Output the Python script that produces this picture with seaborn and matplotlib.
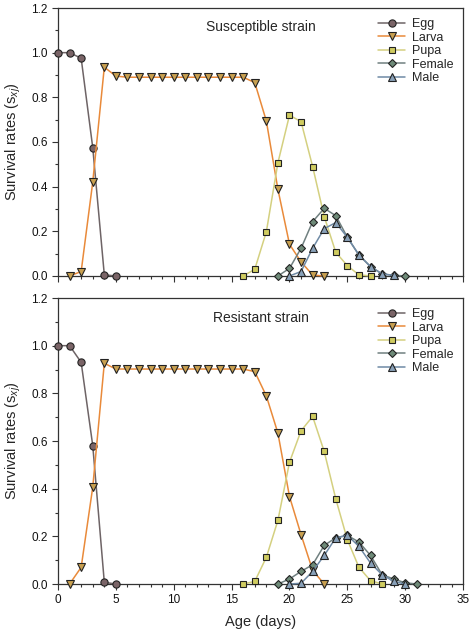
import numpy as np
import pandas as pd
import matplotlib
matplotlib.use("Agg")
import matplotlib.pyplot as plt
import seaborn as sns
from matplotlib.ticker import MultipleLocator

sns.set_style("ticks")
plt.rcParams.update({
    "font.family": ["Liberation Sans", "DejaVu Sans"],
    "mathtext.fontset": "custom",
    "mathtext.rm": "Liberation Sans",
    "mathtext.it": "Liberation Sans:italic",
    "axes.edgecolor": "#333333",
    "axes.linewidth": 0.9,
})

# --- susceptible strain ---
sus_egg_age = [0, 1, 2, 3, 4, 5]
sus_egg = [1.0, 1.0, 0.975, 0.575, 0.005, 0.0]
sus_larva_age = list(range(1, 24))
sus_larva = [0.0, 0.02, 0.42, 0.935, 0.895, 0.89, 0.89, 0.89, 0.89, 0.89, 0.89,
             0.89, 0.89, 0.89, 0.89, 0.89, 0.866, 0.694, 0.388, 0.142, 0.063,
             0.004, 0.0]
sus_pupa_age = list(range(16, 28))
sus_pupa = [0.0, 0.03, 0.198, 0.507, 0.72, 0.691, 0.49, 0.266, 0.106, 0.046,
            0.005, 0.0]
sus_female_age = list(range(19, 31))
sus_female = [0.0, 0.034, 0.124, 0.243, 0.303, 0.27, 0.173, 0.094, 0.042,
              0.009, 0.003, 0.0]
sus_male_age = list(range(20, 30))
sus_male = [0.0, 0.02, 0.124, 0.212, 0.239, 0.173, 0.094, 0.042, 0.009, 0.003]

# --- resistant strain ---
res_egg_age = [0, 1, 2, 3, 4, 5]
res_egg = [1.0, 1.0, 0.93, 0.581, 0.007, 0.0]
res_larva_age = list(range(1, 24))
res_larva = [0.0, 0.07, 0.406, 0.926, 0.902, 0.902, 0.902, 0.902, 0.902, 0.902,
             0.902, 0.902, 0.902, 0.902, 0.902, 0.902, 0.891, 0.789, 0.633,
             0.367, 0.207, 0.057, 0.0]
res_pupa_age = list(range(16, 29))
res_pupa = [0.0, 0.011, 0.112, 0.267, 0.511, 0.643, 0.703, 0.556, 0.357, 0.186,
            0.07, 0.014, 0.0]
res_female_age = list(range(19, 32))
res_female = [0.0, 0.021, 0.053, 0.081, 0.162, 0.194, 0.204, 0.176, 0.12,
              0.039, 0.021, 0.005, 0.0]
res_male_age = list(range(20, 31))
res_male = [0.0, 0.003, 0.053, 0.12, 0.194, 0.204, 0.158, 0.088, 0.039, 0.011,
            0.0]

stages = ["Egg", "Larva", "Pupa", "Female", "Male"]
panels = [
    ("Susceptible strain", [(sus_egg_age, sus_egg), (sus_larva_age, sus_larva),
                            (sus_pupa_age, sus_pupa), (sus_female_age, sus_female),
                            (sus_male_age, sus_male)]),
    ("Resistant strain", [(res_egg_age, res_egg), (res_larva_age, res_larva),
                          (res_pupa_age, res_pupa), (res_female_age, res_female),
                          (res_male_age, res_male)]),
]

# estilo por estágio: cor da linha, marcador, preenchimento
STYLE = {
    "Egg": ("#6e6466", "o", "#7a6467"),
    "Larva": ("#e98a3a", "v", "#c9a050"),
    "Pupa": ("#d4d080", "s", "#d0cc60"),
    "Female": ("#708080", "D", "#6e8a78"),
    "Male": ("#6f8aa5", "^", "#88a0b8"),
}
MSIZE = {"Egg": 5.2, "Larva": 5.2, "Pupa": 4.8, "Female": 4.4, "Male": 5.2}

fig = plt.figure(figsize=(4.74, 6.35), dpi=100)
ax_top = fig.add_axes([0.1224, 0.5654, 0.8546, 0.422])
ax_bot = fig.add_axes([0.1224, 0.0803, 0.8546, 0.4504])

for ax, (title, series) in zip([ax_top, ax_bot], panels):
    for name, (age, vals) in zip(stages, series):
        df = pd.DataFrame({"age": age, "rate": vals})
        lc, mk, mf = STYLE[name]
        sns.lineplot(data=df, x="age", y="rate", ax=ax, color=lc, lw=1.1,
                     marker=mk, markersize=MSIZE[name], markerfacecolor=mf,
                     markeredgecolor="#222222", markeredgewidth=0.8,
                     label=name, clip_on=False, zorder=3)
    ax.set_xlim(0, 35)
    ax.set_ylim(0, 1.2)
    ax.xaxis.set_major_locator(MultipleLocator(5))
    ax.xaxis.set_minor_locator(MultipleLocator(1))
    ax.yaxis.set_major_locator(MultipleLocator(0.2))
    ax.yaxis.set_minor_locator(MultipleLocator(0.1))
    ax.yaxis.set_major_formatter(matplotlib.ticker.FormatStrFormatter("%.1f"))
    ax.tick_params(which="major", direction="out", length=4, width=0.8,
                   labelsize=8.5, colors="#333333", labelcolor="#111111")
    ax.tick_params(which="minor", direction="out", length=2.5, width=0.8,
                   colors="#333333")
    ax.set_ylabel(r"Survival rates ($\mathrm{s}_{xj}$)", fontsize=10.5,
                  labelpad=6)
    ax.text(0.5, 0.955, title, transform=ax.transAxes, ha="center",
            va="top", fontsize=10)
    ax.legend(loc="upper right", frameon=False, fontsize=9,
              handlelength=2.2, handletextpad=0.5, labelspacing=0.12,
              borderaxespad=0.4)
    ax.set_xlabel("")

ax_top.set_xticklabels([])
ax_bot.set_xlabel("Age (days)", fontsize=10.5, labelpad=6)

fig.savefig("out.png", dpi=100)
